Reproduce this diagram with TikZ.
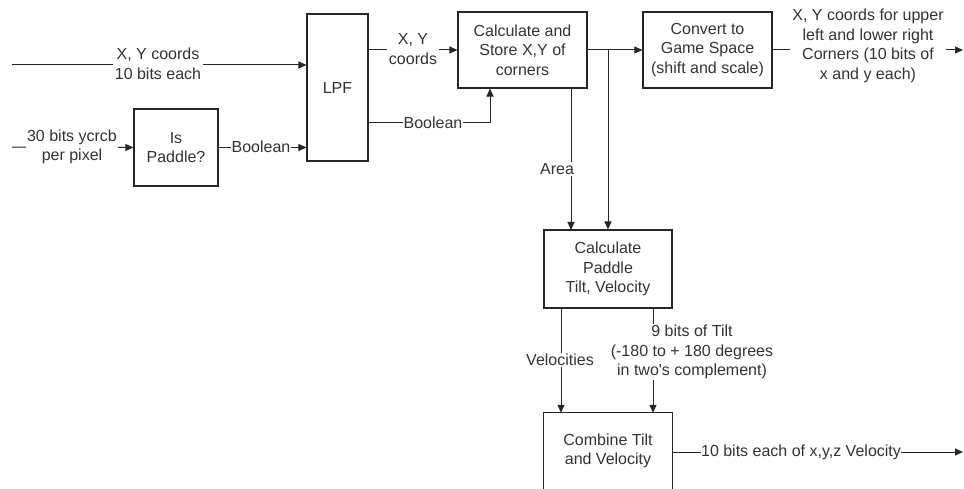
\documentclass[tikz,border=0pt]{standalone}
\usepackage{fontspec}
\setmainfont{Liberation Sans}
\newfontfamily\qfont{Liberation Sans}[Ligatures=ResetAll]
\usetikzlibrary{arrows.meta}
\begin{document}
\begin{tikzpicture}[x=1pt,y=-1pt,
  every node/.style={font=\fontsize{16}{19.5}\selectfont, text=black!80},
  blk/.style={draw=black!85, line width=1.1pt, align=center, inner sep=0pt},
  wire/.style={draw=black!85, line width=1pt},
  arr/.style={wire, -{Triangle[length=8pt,width=7pt]}},
  lbl/.style={fill=white, align=center, inner sep=1.5pt}]
\useasboundingbox (0,0) rectangle (964,489);
\clip (0,0) rectangle (964,489);

% blocks
\node[blk, minimum width=84, minimum height=77] (isp) at (176,147.5) {Is\\Paddle?};
\node[blk, minimum width=61, minimum height=147] (lpf) at (337.5,87.5) {LPF};
\node[blk, minimum width=129, minimum height=76] (calc) at (522.5,50) {Calculate and\\Store X,Y of\\corners};
\node[blk, minimum width=129, minimum height=76] (conv) at (707.5,50) {Convert to\\Game Space\\(shift and scale)};
\node[blk, minimum width=128, minimum height=78] (pad) at (608,269) {Calculate\\Paddle\\Tilt, Velocity};
\node[align=center, inner sep=0pt, minimum width=128, minimum height=76] (comb) at (608,451) {Combine Tilt\\and Velocity};
\draw[wire, line width=1.1pt] ([yshift=-12pt]comb.south west) -- (comb.north west) -- (comb.north east) -- ([yshift=-12pt]comb.south east);

% free ends
\coordinate (in1) at (12,65);
\coordinate (in2) at (12,147);
\coordinate (out1) at (963,50);
\coordinate (out2) at (963,452);
\coordinate (br) at (608,50);
\coordinate (bool) at (490,123);

% connectors
\draw[arr] (in1) -- (in1 -| lpf.west);
\node[lbl] (l1) at (158,64) {X, Y coords\\10 bits each};

\draw[arr] (in2) -- (isp.west);
\node[lbl] (l2) at (72,147) {30 bits ycrcb\\per pixel};

\draw[arr] (isp.east) -- (isp.east -| lpf.west);
\node[lbl, inner sep=0.5pt] (l3) at (261,147) {Boolean};

\draw[arr] (calc.west -| lpf.east) -- (calc.west);
\node[lbl] (l4) at (413,49) {X, Y\\coords};

\draw[arr] (bool -| lpf.east) -- (bool) -- (bool |- calc.south);
\node[lbl, inner sep=0.5pt] (l5) at (433,123) {Boolean};

\draw[arr] (calc.east) -- (conv.west);
\draw[arr] (br) -- (pad.north);
\draw[arr] (571,88) -- (571,230);
\node[lbl] (l6) at (557,169) {Area};

\draw[arr] (conv.east) -- (out1);
\node[lbl, inner sep=2pt] (l7) at (868,46) {X, Y coords for upper\\left and lower right\\Corners (10 bits of\\x and y each)};

\draw[arr] (pad.south -| 561,0) -- (comb.north -| 561,0);
\node[lbl] (l8) at (560,360) {Velocities};

\draw[arr] (pad.south -| 653,0) -- (comb.north -| 653,0);
\node[lbl] (l9) at (692,352) {9 bits of Tilt\\(-180 to + 180 degrees\\in two{\qfont'}s complement)};

\draw[arr] (comb.east |- out2) -- (out2);
\node[lbl, inner sep=0.5pt] (l10) at (801,452) {10 bits each of x,y,z Velocity};
\end{tikzpicture}
\end{document}
